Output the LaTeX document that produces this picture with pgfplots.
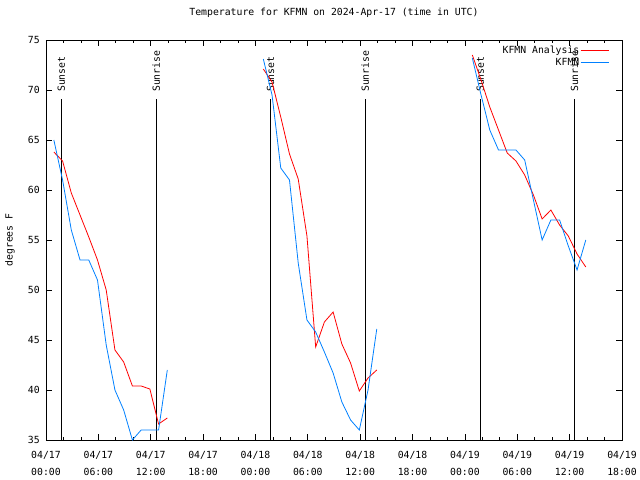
\documentclass[border=0pt]{standalone}
\usepackage{pgfplots}
\pgfplotsset{compat=1.18}
\usepackage{fontspec}
\setmainfont{DejaVu Sans Mono}
\definecolor{obsblue}{RGB}{0,128,255}
\begin{document}
\fontsize{9.8bp}{11bp}\selectfont
\begin{tikzpicture}
\path[use as bounding box] (-46bp,-40bp) rectangle (594bp,440bp);
\begin{axis}[
  at={(0,0)}, anchor=south west,
  scale only axis, width=576bp, height=400bp,
  xmin=0, xmax=66, ymin=35, ymax=75,
  xtick={0,6,...,66},
  xticklabels={{04/17\\00:00},{04/17\\06:00},{04/17\\12:00},{04/17\\18:00},{04/18\\00:00},{04/18\\06:00},{04/18\\12:00},{04/18\\18:00},{04/19\\00:00},{04/19\\06:00},{04/19\\12:00},{04/19\\18:00}},
  minor x tick num=2,
  ytick={35,40,...,75},
  tick align=inside,
  major tick length=6bp, minor tick length=3bp,
  every tick/.style={black, line width=0.8bp},
  axis line style={line width=0.8bp},
  /pgf/number format/assume math mode=true,
  xticklabel style={align=center, inner sep=0pt, yshift=-11bp, font=\fontsize{9.8bp}{17.5bp}\selectfont},
  yticklabel style={inner sep=0pt, xshift=-6bp},
  title={Temperature for KFMN on 2024-Apr-17 (time in UTC)},
  title style={at={(axis description cs:0.5,1)}, anchor=center, yshift=21bp, inner sep=0pt},
  ylabel={degrees F},
  ylabel style={at={(axis description cs:-0.0625,0.5)}, anchor=center, rotate=0, inner sep=0pt},
  legend style={draw=none, fill=none, at={(axis description cs:0.978,0.988)}, anchor=north east, inner sep=0pt, row sep=1.5bp, nodes={inner sep=1bp}, column 1/.style={column sep=5bp}},
  legend cell align=right,
  legend plot pos=right,
  legend image code/.code={\draw[#1] (0bp,0bp) -- (28bp,0bp);},
  unbounded coords=jump,
  clip=true,
]
% sunset / sunrise lines
\addplot[black, line width=0.8bp, forget plot] coordinates {(1.76,35) (1.76,69.07)};
\addplot[black, line width=0.8bp, forget plot] coordinates {(12.64,35) (12.64,69.07)};
\addplot[black, line width=0.8bp, forget plot] coordinates {(25.74,35) (25.74,69.07)};
\addplot[black, line width=0.8bp, forget plot] coordinates {(36.59,35) (36.59,69.07)};
\addplot[black, line width=0.8bp, forget plot] coordinates {(49.77,35) (49.77,69.07)};
\addplot[black, line width=0.8bp, forget plot] coordinates {(60.54,35) (60.54,69.07)};
\node[rotate=90, anchor=west, inner sep=0pt] at (axis cs:1.76,69.8) {Sunset};
\node[rotate=90, anchor=west, inner sep=0pt] at (axis cs:12.64,69.8) {Sunrise};
\node[rotate=90, anchor=west, inner sep=0pt] at (axis cs:25.74,69.8) {Sunset};
\node[rotate=90, anchor=west, inner sep=0pt] at (axis cs:36.59,69.8) {Sunrise};
\node[rotate=90, anchor=west, inner sep=0pt] at (axis cs:49.77,69.8) {Sunset};
\node[rotate=90, anchor=west, inner sep=0pt] at (axis cs:60.54,69.8) {Sunrise};
% analysis
\addplot[red, line width=0.8bp] coordinates {
(0.9,63.8) (1.9,62.9) (2.9,59.7) (3.9,57.5) (4.9,55.3) (5.9,53.0) (6.9,50.0) (7.9,44.0) (8.9,42.8) (9.9,40.4) (10.9,40.4) (11.9,40.1) (12.9,36.6) (13.9,37.2)
(19,nan)
(24.9,72.1) (25.9,70.8) (26.9,67.3) (27.9,63.6) (28.9,61.1) (29.9,55.4) (30.9,44.3) (31.9,46.8) (32.9,47.8) (33.9,44.6) (34.9,42.7) (35.9,39.9) (36.9,41.2) (37.9,42.0)
(43,nan)
(48.85,73.5) (49.85,71.0) (50.85,68.3) (51.85,66.0) (52.85,63.7) (53.85,62.9) (54.85,61.5) (55.85,59.5) (56.85,57.1) (57.85,58.0) (58.85,56.5) (59.85,55.4) (60.85,53.6) (61.85,52.3)
};
\addlegendentry{KFMN Analysis}
% observations
\addplot[obsblue, line width=0.8bp] coordinates {
(0.9,65) (1.9,61) (2.9,56) (3.9,53) (4.9,53) (5.9,51) (6.9,44.5) (7.9,40) (8.9,38) (9.9,35) (10.9,36) (11.9,36) (12.9,36) (13.9,42)
(19,nan)
(24.9,73.1) (25.9,69.5) (26.9,62.2) (27.9,61) (28.9,52.7) (29.9,47) (30.9,45.8) (31.9,43.8) (32.9,41.7) (33.9,38.8) (34.9,37) (35.9,36) (36.9,40) (37.9,46.1)
(43,nan)
(48.85,73.2) (49.85,69.5) (50.85,66) (51.85,64) (52.85,64) (53.85,64) (54.85,63) (55.85,59) (56.85,55) (57.85,57) (58.85,57) (59.85,54.4) (60.85,52) (61.85,55)
};
\addlegendentry{KFMN}
\end{axis}
\end{tikzpicture}
\end{document}
